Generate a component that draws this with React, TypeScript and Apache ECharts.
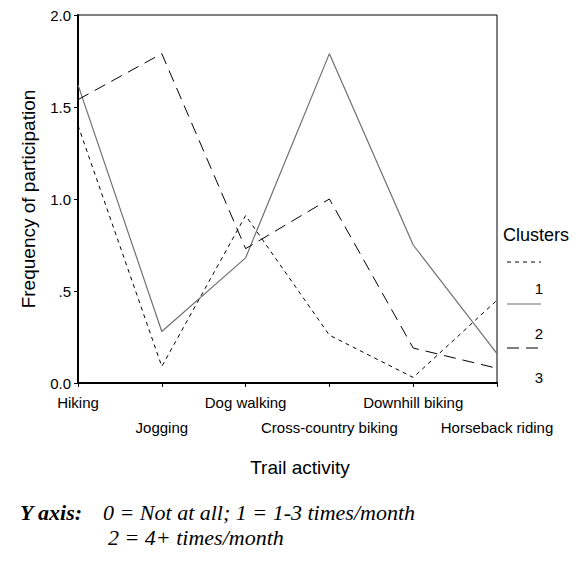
import React, { useEffect, useRef } from "react";
import * as echarts from "echarts";

const categories = [
  "Hiking",
  "Jogging",
  "Dog walking",
  "Cross-country biking",
  "Downhill biking",
  "Horseback riding",
];
const cluster1 = [1.4, 0.09, 0.91, 0.26, 0.03, 0.45];
const cluster2 = [1.62, 0.28, 0.68, 1.79, 0.75, 0.16];
const cluster3 = [1.54, 1.79, 0.73, 1.0, 0.19, 0.08];
const clusterNames = ["1", "2", "3"];
const yTicks = [0, 0.5, 1, 1.5, 2];
const yTickLabels = ["0.0", ".5", "1.0", "1.5", "2.0"];
const legendTitle = "Clusters";
const xAxisTitle = "Trail activity";
const yAxisTitle = "Frequency of participation";
const noteLabel = "Y axis:";
const noteLine1 = "0 = Not at all; 1 = 1-3 times/month";
const noteLine2 = "2 = 4+ times/month";

const SANS = "Arial, 'Liberation Sans', sans-serif";
const SERIF = "'Times New Roman', 'Liberation Serif', serif";

const seriesStyles = [
  { color: "#000000", width: 1, type: [4, 4] as number[] | "solid" },
  { color: "#707070", width: 1.2, type: "solid" as number[] | "solid" },
  { color: "#000000", width: 1, type: [12, 7] as number[] | "solid" },
];

export default function App() {
  const ref = useRef<HTMLDivElement>(null);
  useEffect(() => {
    if (!ref.current) return;
    const chart = echarts.init(ref.current, undefined, { renderer: "svg" });
    const data = [cluster1, cluster2, cluster3];

    const legendGraphics: any[] = [
      {
        type: "text",
        left: 503,
        top: 226,
        style: { text: legendTitle, fontSize: 18, fontFamily: SANS, fill: "#000" },
      },
    ];
    const lineYs = [262, 304, 348];
    const numYs = [288, 333, 377];
    clusterNames.forEach((n, i) => {
      const st = seriesStyles[i];
      legendGraphics.push({
        type: "line",
        shape: { x1: 507, y1: lineYs[i], x2: 541, y2: lineYs[i] },
        style: {
          stroke: st.color,
          lineWidth: st.width,
          lineDash: st.type === "solid" ? null : st.type,
        },
      });
      legendGraphics.push({
        type: "text",
        x: 539,
        y: numYs[i],
        style: {
          text: n,
          fontSize: 15,
          fontFamily: SANS,
          fill: "#000",
          align: "center",
          verticalAlign: "middle",
        },
      });
    });

    chart.setOption({
      animation: false,
      backgroundColor: "#fff",
      grid: {
        left: 78,
        top: 15,
        width: 419,
        height: 368,
        show: true,
        borderColor: "#000",
        borderWidth: 1,
        backgroundColor: "transparent",
      },
      xAxis: {
        type: "category",
        data: categories,
        boundaryGap: false,
        axisLine: { show: true, lineStyle: { color: "#000", width: 2 } },
        axisTick: { show: true, inside: false, length: 4, lineStyle: { color: "#000", width: 1 } },
        axisLabel: {
          interval: 0,
          margin: 7,
          color: "#000",
          fontSize: 15,
          fontFamily: SANS,
          lineHeight: 25,
          formatter: (v: string, i: number) => (i % 2 === 1 ? "\n" + v : v),
        },
        splitLine: { show: false },
      },
      yAxis: {
        type: "value",
        min: 0,
        max: 2,
        interval: 0.5,
        name: yAxisTitle,
        nameLocation: "middle",
        nameGap: 40,
        nameTextStyle: { fontSize: 19, fontFamily: SANS, color: "#000" },
        axisLine: { show: true, lineStyle: { color: "#000", width: 2 } },
        axisTick: { show: true, inside: false, length: 4, lineStyle: { color: "#000", width: 1 } },
        axisLabel: {
          margin: 7,
          color: "#000",
          fontSize: 15,
          fontFamily: SANS,
          formatter: (v: number) => {
            const idx = yTicks.indexOf(v);
            return idx >= 0 ? yTickLabels[idx] : String(v);
          },
        },
        splitLine: { show: false },
      },
      series: data.map((d, i) => ({
        name: clusterNames[i],
        type: "line",
        data: d,
        symbol: "none",
        lineStyle: {
          color: seriesStyles[i].color,
          width: seriesStyles[i].width,
          type: seriesStyles[i].type,
        },
      })),
      graphic: [
        ...legendGraphics,
        {
          type: "text",
          x: 300,
          y: 467,
          style: {
            text: xAxisTitle,
            fontSize: 19,
            fontFamily: SANS,
            fill: "#000",
            align: "center",
            verticalAlign: "middle",
          },
        },
        {
          type: "text",
          x: 20,
          y: 512,
          style: {
            text: noteLabel,
            fontSize: 22,
            fontFamily: SERIF,
            fontWeight: "bold",
            fontStyle: "italic",
            fill: "#000",
            verticalAlign: "middle",
          },
        },
        {
          type: "text",
          x: 103,
          y: 512,
          style: {
            text: noteLine1,
            fontSize: 22,
            fontFamily: SERIF,
            fontStyle: "italic",
            fill: "#000",
            verticalAlign: "middle",
          },
        },
        {
          type: "text",
          x: 108,
          y: 537,
          style: {
            text: noteLine2,
            fontSize: 22,
            fontFamily: SERIF,
            fontStyle: "italic",
            fill: "#000",
            verticalAlign: "middle",
          },
        },
      ],
    });
    return () => chart.dispose();
  }, []);
  return <div ref={ref} style={{ width: 584, height: 562, position: "absolute", left: 0, top: 0 }} />;
}
